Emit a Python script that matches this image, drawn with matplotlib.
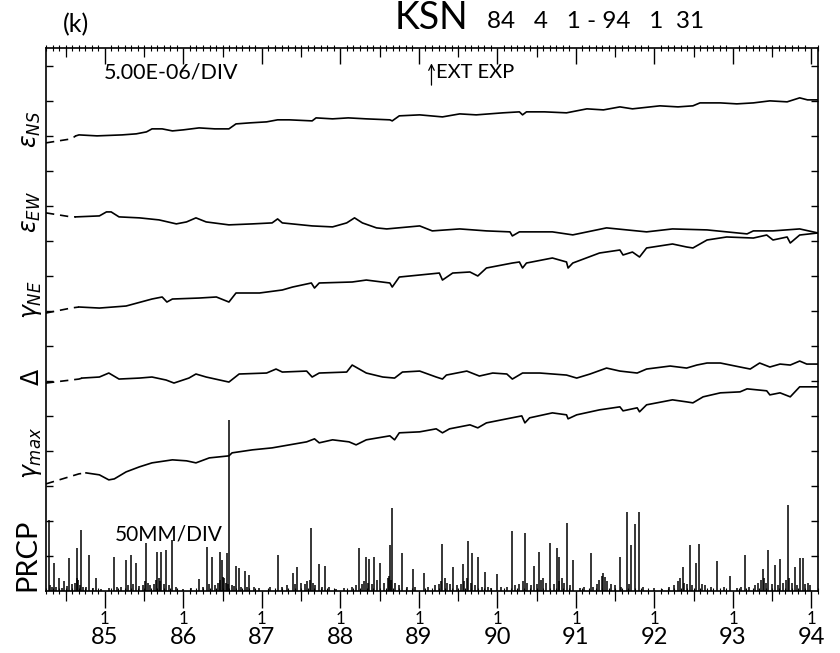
import matplotlib
matplotlib.use("Agg")
import matplotlib.pyplot as plt
import matplotlib.transforms as mtransforms
import numpy as np

plt.rcParams['font.family'] = ['Lato', 'DejaVu Sans']
plt.rcParams['font.weight'] = 'normal'

# ---------------------------------------------------------------------------
# Strain records (microstrain, relative to the first sample), KSN station
# first segment of each record is interpolated (drawn dashed)
# ---------------------------------------------------------------------------
t_ns = [1984.25, 1984.57, 1984.63, 1984.67, 1984.90, 1985.22, 1985.40, 1985.53, 1985.60,
        1985.73, 1985.86, 1986.00, 1986.20, 1986.40, 1986.58, 1986.67, 1986.85, 1987.06,
        1987.20, 1987.35, 1987.64, 1987.69, 1987.90, 1988.10, 1988.33, 1988.63, 1988.66,
        1988.75, 1989.01, 1989.15, 1989.30, 1989.52, 1989.73, 1990.07, 1990.28, 1990.32,
        1990.37, 1990.60, 1990.88, 1991.14, 1991.35, 1991.56, 1991.72, 1992.07, 1992.30,
        1992.49, 1992.58, 1992.84, 1993.05, 1993.26, 1993.47, 1993.69, 1993.85, 1993.95,
        1994.08]
eps_ns = [0.0, 0.57, 1.0, 1.14, 1.0, 1.14, 1.29, 1.57, 2.0,
          2.0, 1.71, 1.86, 2.14, 2.0, 2.0, 2.71, 2.86, 3.0,
          3.29, 3.29, 3.14, 3.57, 3.43, 3.57, 3.43, 3.29, 3.14,
          3.86, 4.0, 3.86, 3.71, 4.14, 4.0, 4.29, 4.43, 4.0,
          4.43, 4.43, 4.29, 4.86, 4.71, 5.14, 4.86, 5.29, 5.14,
          5.29, 5.71, 5.71, 5.57, 5.71, 6.0, 5.86, 6.43, 6.14,
          6.14]

t_ew = [1984.25, 1984.57, 1984.63, 1984.93, 1985.02, 1985.08, 1985.18, 1985.44, 1985.69,
        1985.91, 1986.04, 1986.16, 1986.29, 1986.58, 1986.88, 1987.13, 1987.20, 1987.26,
        1987.64, 1987.90, 1988.08, 1988.18, 1988.28, 1988.46, 1988.59, 1989.01, 1989.17,
        1989.52, 1989.86, 1990.16, 1990.19, 1990.28, 1990.70, 1990.96, 1991.39, 1991.90,
        1992.23, 1992.67, 1993.18, 1993.26, 1993.51, 1993.85, 1994.08]
eps_ew = [0.0, -0.57, -0.57, -0.43, 0.14, 0.14, -0.57, -0.71, -1.0,
          -1.57, -1.29, -0.71, -1.29, -1.71, -1.57, -1.43, -0.86, -1.43,
          -1.86, -2.0, -1.43, -0.71, -1.43, -2.14, -2.29, -1.86, -2.57,
          -2.29, -2.57, -2.71, -3.29, -2.71, -2.71, -3.14, -2.14, -2.71,
          -2.29, -2.43, -3.0, -2.57, -2.57, -2.29, -2.86]

t_ne = [1984.25, 1984.57, 1984.67, 1984.93, 1985.27, 1985.60, 1985.73, 1985.79, 1985.86,
        1986.20, 1986.42, 1986.58, 1986.67, 1986.97, 1987.26, 1987.39, 1987.63, 1987.67,
        1987.73, 1988.15, 1988.33, 1988.63, 1988.66, 1988.75, 1989.01, 1989.26, 1989.30,
        1989.43, 1989.65, 1989.75, 1989.86, 1990.19, 1990.28, 1990.32, 1990.37, 1990.70,
        1990.88, 1990.90, 1990.96, 1991.30, 1991.56, 1991.60, 1991.72, 1991.81, 1991.90,
        1992.23, 1992.41, 1992.49, 1992.67, 1992.92, 1993.26, 1993.43, 1993.51, 1993.69,
        1993.73, 1993.85, 1994.08]
gam_ne = [0.0, 0.71, 0.86, 0.71, 1.0, 2.0, 2.29, 1.57, 2.0,
          2.14, 2.29, 1.57, 2.86, 2.86, 3.29, 3.71, 4.29, 3.57,
          4.29, 4.43, 4.71, 4.29, 3.71, 5.14, 5.43, 5.71, 4.71,
          5.71, 5.86, 5.29, 6.43, 7.14, 7.29, 6.43, 7.14, 7.86,
          7.29, 6.43, 7.14, 8.57, 9.0, 8.29, 8.71, 8.0, 9.29,
          9.86, 9.43, 9.29, 10.43, 10.86, 10.71, 11.14, 10.43, 10.86,
          10.0, 11.14, 11.43]

t_dil = [1984.25, 1984.67, 1984.71, 1984.93, 1985.05, 1985.18, 1985.44, 1985.60, 1985.78,
         1985.88, 1986.07, 1986.16, 1986.29, 1986.58, 1986.71, 1987.06, 1987.18, 1987.26,
         1987.57, 1987.64, 1987.73, 1988.08, 1988.15, 1988.24, 1988.33, 1988.54, 1988.69,
         1988.79, 1989.01, 1989.22, 1989.30, 1989.35, 1989.61, 1989.77, 1989.94, 1990.12,
         1990.19, 1990.32, 1990.54, 1990.88, 1991.01, 1991.18, 1991.39, 1991.56, 1991.78,
         1991.90, 1992.20, 1992.41, 1992.54, 1992.67, 1992.84, 1993.09, 1993.22, 1993.34,
         1993.47, 1993.60, 1993.73, 1993.85, 1993.94, 1994.08]
dilat = [0.0, 0.57, 0.71, 0.86, 1.43, 0.57, 0.71, 0.86, 0.43,
         0.0, 0.71, 1.29, 0.86, 0.14, 1.29, 1.43, 2.0, 1.57,
         1.71, 0.86, 1.43, 1.57, 2.57, 2.0, 1.43, 0.86, 0.71,
         1.57, 1.71, 0.86, 0.57, 1.14, 1.71, 1.0, 1.43, 1.29,
         0.57, 1.43, 1.43, 1.14, 0.71, 1.29, 2.14, 1.71, 1.43,
         2.0, 2.43, 2.14, 2.57, 2.86, 2.86, 2.29, 2.0, 2.86,
         2.29, 2.71, 2.57, 3.14, 2.71, 2.71]

t_max = [1984.25, 1984.67, 1984.76, 1984.93, 1985.05, 1985.12, 1985.27, 1985.44, 1985.60,
         1985.86, 1986.04, 1986.16, 1986.33, 1986.58, 1986.62, 1986.88, 1987.13, 1987.35,
         1987.57, 1987.67, 1987.73, 1987.90, 1988.11, 1988.20, 1988.33, 1988.63, 1988.69,
         1988.75, 1989.01, 1989.22, 1989.30, 1989.39, 1989.65, 1989.75, 1989.86, 1990.12,
         1990.31, 1990.35, 1990.41, 1990.70, 1990.88, 1990.90, 1991.01, 1991.30, 1991.56,
         1991.60, 1991.78, 1991.81, 1991.90, 1992.23, 1992.41, 1992.49, 1992.62, 1992.84,
         1993.09, 1993.18, 1993.43, 1993.47, 1993.60, 1993.73, 1993.85, 1994.08]
gam_max = [0.0, 1.43, 1.57, 1.29, 0.57, 0.71, 1.71, 2.43, 3.0,
           3.43, 3.29, 3.0, 3.71, 4.0, 4.43, 4.86, 5.14, 5.57,
           6.0, 6.43, 5.86, 6.29, 6.0, 5.57, 6.29, 6.86, 6.29,
           7.29, 7.43, 7.86, 7.29, 7.86, 8.43, 8.0, 8.71, 9.29,
           9.71, 8.71, 9.43, 10.14, 9.86, 9.29, 9.86, 10.57, 11.0,
           10.43, 10.86, 10.29, 11.29, 12.0, 11.71, 11.57, 12.43, 13.0,
           13.14, 13.57, 13.29, 12.71, 13.0, 12.43, 13.86, 13.86]

# Daily precipitation (mm)
prcp_t = [1984.29, 1984.35, 1984.42, 1984.48, 1984.54, 1984.65, 1984.70, 1984.80, 1984.89,
          1985.12, 1985.27, 1985.33, 1985.40, 1985.53, 1985.67, 1985.72, 1985.78, 1985.86,
          1986.20, 1986.30, 1986.37, 1986.46, 1986.49, 1986.55, 1986.58, 1986.67, 1986.71,
          1986.78, 1986.84, 1987.20, 1987.39, 1987.45, 1987.63, 1987.73, 1987.80, 1988.24,
          1988.33, 1988.37, 1988.43, 1988.50, 1988.63, 1988.66, 1988.78, 1988.92, 1989.07,
          1989.30, 1989.43, 1989.56, 1989.63, 1989.68, 1989.75, 1989.84, 1989.99, 1990.18,
          1990.35, 1990.47, 1990.53, 1990.67, 1990.76, 1990.79, 1990.88, 1990.96, 1991.19,
          1991.56, 1991.65, 1991.70, 1991.75, 1991.80, 1992.36, 1992.45, 1992.53, 1992.57,
          1992.80, 1992.96, 1993.15, 1993.38, 1993.45, 1993.54, 1993.60, 1993.70, 1993.79,
          1993.85, 1993.89]
prcp_mm = [101, 40, 19, 14, 47, 61, 87, 51, 19,
           49, 44, 51, 40, 69, 56, 56, 59, 73,
           17, 63, 49, 56, 44, 54, 244, 36, 33,
           29, 23, 51, 26, 34, 90, 39, 36, 61,
           49, 46, 49, 40, 66, 119, 54, 31, 26,
           67, 34, 39, 71, 54, 49, 27, 24, 86,
           83, 36, 56, 69, 61, 49, 97, 44, 54,
           49, 113, 66, 96, 113, 34, 66, 40, 67,
           43, 21, 51, 31, 59, 37, 46, 123, 34,
           47, 47]

# light-rain days
drizzle_t = [1984.30, 1984.33, 1984.38, 1984.45, 1984.52, 1984.58, 1984.62, 1984.64, 1984.66,
             1984.68, 1984.72, 1984.76, 1984.85, 1984.95, 1985.05, 1985.15, 1985.20, 1985.30,
             1985.36, 1985.43, 1985.48, 1985.51, 1985.55, 1985.58, 1985.62, 1985.65, 1985.69,
             1985.70, 1985.75, 1985.82, 1985.90, 1986.00, 1986.10, 1986.25, 1986.33, 1986.40,
             1986.44, 1986.47, 1986.50, 1986.52, 1986.54, 1986.57, 1986.62, 1986.65, 1986.74,
             1986.81, 1986.90, 1986.96, 1987.10, 1987.25, 1987.32, 1987.42, 1987.50, 1987.55,
             1987.58, 1987.61, 1987.65, 1987.68, 1987.76, 1987.85, 1987.95, 1988.05, 1988.15,
             1988.20, 1988.28, 1988.30, 1988.35, 1988.40, 1988.46, 1988.55, 1988.60, 1988.62,
             1988.65, 1988.70, 1988.74, 1988.85, 1988.95, 1989.12, 1989.20, 1989.25, 1989.28,
             1989.33, 1989.36, 1989.40, 1989.48, 1989.53, 1989.58, 1989.61, 1989.66, 1989.71,
             1989.80, 1989.88, 1989.92, 1990.05, 1990.12, 1990.22, 1990.28, 1990.32, 1990.38,
             1990.43, 1990.50, 1990.55, 1990.58, 1990.62, 1990.72, 1990.78, 1990.82, 1990.85,
             1990.92, 1991.05, 1991.10, 1991.22, 1991.27, 1991.30, 1991.33, 1991.35, 1991.37,
             1991.40, 1991.45, 1991.50, 1991.58, 1991.67, 1991.85, 1992.00, 1992.10, 1992.18,
             1992.25, 1992.30, 1992.33, 1992.38, 1992.42, 1992.48, 1992.60, 1992.65, 1992.72,
             1992.88, 1993.05, 1993.10, 1993.20, 1993.28, 1993.32, 1993.36, 1993.40, 1993.42,
             1993.50, 1993.57, 1993.64, 1993.67, 1993.72, 1993.75, 1993.82, 1993.92, 1993.95,
             1993.98]
drizzle_mm = [8, 5, 6, 4, 7, 10, 12, 18, 15,
              9, 6, 5, 4, 3, 4, 6, 5, 8,
              10, 7, 9, 14, 12, 8, 10, 15, 18,
              14, 10, 8, 5, 3, 4, 6, 10, 8,
              12, 16, 20, 18, 12, 10, 8, 7, 6,
              5, 6, 4, 5, 6, 8, 10, 12, 10,
              14, 16, 12, 9, 6, 5, 3, 4, 5,
              8, 10, 14, 12, 10, 16, 12, 18, 22,
              16, 12, 8, 6, 5, 6, 8, 10, 14,
              18, 12, 10, 8, 10, 14, 18, 12, 8,
              6, 5, 4, 5, 6, 8, 10, 14, 12,
              8, 10, 16, 18, 12, 10, 14, 18, 12,
              8, 4, 5, 6, 10, 16, 22, 26, 20,
              14, 10, 8, 6, 10, 5, 4, 3, 5,
              8, 14, 18, 12, 10, 8, 10, 8, 6,
              5, 4, 5, 6, 8, 12, 16, 18, 12,
              10, 8, 12, 16, 18, 12, 8, 10, 12,
              8]

# trace label, times, values, offset of first sample (divisions),
# number of interpolated leading segments, label height (divisions)
traces = [
    (r'$\varepsilon_{NS}$', t_ns, eps_ns, 12.80, 2, 13.17),
    (r'$\varepsilon_{EW}$', t_ew, eps_ew, 10.80, 2, 10.83),
    (r'$\gamma_{NE}$', t_ne, gam_ne, 7.94, 2, 8.31),
    (r'$\Delta$', t_dil, dilat, 5.94, 2, 6.11),
    (r'$\gamma_{max}$', t_max, gam_max, 3.06, 2, 3.94),
]
strain_per_div = 5.0      # microstrain per division (5.00E-06/DIV)
prcp_per_div = 50.0       # mm per division

t0, t1 = 1984.25, 1994.083
years = list(range(1985, 1995))
year_labels = [f"{y % 100:02d}" for y in years]

fig = plt.figure(figsize=(8.4, 6.53), dpi=100)
ax = fig.add_axes([46 / 840, 62 / 653, 772 / 840, 543 / 653])
ax.set_xlim(t0, t1)
ax.set_ylim(0, 15.51)
ytrans = mtransforms.blended_transform_factory(ax.transAxes, ax.transData)

lw = 1.2
for name, t, v, off, nd, ylab in traces:
    y = off + np.asarray(v) / strain_per_div
    ax.plot(t[:nd + 1], y[:nd + 1], color='black', lw=lw, ls=(0, (5, 3.5)))
    ax.plot(t[nd:], y[nd:], color='black', lw=lw)
    ax.text(-0.018, ylab, name, transform=ytrans, rotation=90,
            ha='center', va='center', fontsize=17)

ax.vlines(drizzle_t, 0, np.asarray(drizzle_mm) / prcp_per_div, color='black', lw=1.1)
ax.vlines(prcp_t, 0, np.asarray(prcp_mm) / prcp_per_div, color='black', lw=1.1)
ax.text(-0.024, 1.03, 'PRCP', transform=ytrans, rotation=90,
        ha='center', va='center', fontsize=21)

# frame and ticks
for sp in ax.spines.values():
    sp.set_linewidth(1.2)
months = [t0 + k / 12 for k in range(0, 119)]
july = [y + 0.5 for y in range(1984, 1994)]
ax.set_xticks(years)
ax.set_xticklabels(year_labels, fontsize=17)
ax.set_xticks(months, minor=True)
ax.tick_params(axis='x', which='major', direction='out', length=12, width=1.0, pad=14,
               top=False, bottom=True)
ax.tick_params(axis='x', which='minor', direction='inout', length=5, width=0.8,
               top=True, bottom=True)
ax.set_yticks(range(1, 16))
ax.set_yticklabels([])
ax.tick_params(axis='y', which='major', direction='in', length=5, width=1.0,
               left=True, right=True)

# half-year ticks on both rulers
for side, direction, mid_len in (('top', 'in', 6.5), ('bottom', 'out', 7)):
    sec = ax.secondary_xaxis(side)
    sec.set_xticks(july)
    sec.set_xticklabels([])
    sec.tick_params(direction=direction, length=mid_len, width=0.9)
    sec.spines[side].set_visible(False)
# year ticks on the top ruler point inward
sec_top = ax.secondary_xaxis('top')
sec_top.set_xticks(years)
sec_top.set_xticklabels([])
sec_top.tick_params(direction='in', length=11.5, width=1.0)
sec_top.spines['top'].set_visible(False)

# month markers above the year labels
btrans = mtransforms.blended_transform_factory(ax.transData, ax.transAxes)
for y in years:
    ax.text(y, -0.051, '1', transform=btrans, ha='center', va='center', fontsize=12)

# annotations
ax.text(1984.98, 14.80, '5.00E-06/DIV', fontsize=15.5, va='center', ha='left')
ax.annotate('', xy=(1989.16, 15.15), xytext=(1989.16, 14.37),
            arrowprops=dict(arrowstyle='->', lw=0.9, color='black'))
ax.text(1989.22, 14.80, 'EXT EXP', fontsize=14.5, va='center', ha='left')
ax.text(1985.12, 1.60, '50MM/DIV', fontsize=15, va='center', ha='left')

fig.text(76 / 840, 1 - 25 / 653, '(k)', fontsize=18, ha='center', va='center')
fig.text(395 / 840, 1 - 18 / 653, 'KSN', fontsize=27, ha='left', va='center')
fig.text(487 / 840, 1 - 22 / 653, '84   4   1 - 94   1  31', fontsize=17.5, ha='left', va='center')

fig.savefig('out.png', dpi=100)
